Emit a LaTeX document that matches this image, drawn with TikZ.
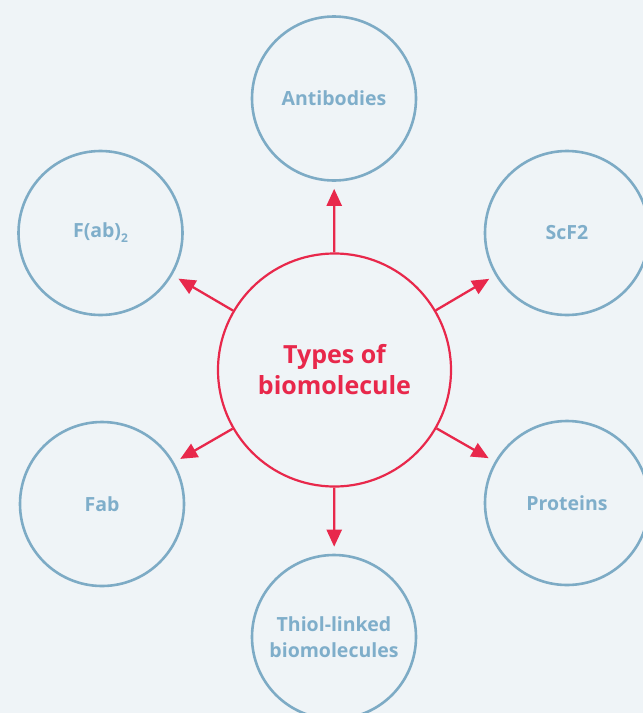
\documentclass[tikz,border=0pt]{standalone}
\usepackage{fontspec}
\setmainfont{Open Sans}
\usetikzlibrary{arrows.meta}
\definecolor{bgc}{HTML}{EFF4F7}
\definecolor{bluec}{HTML}{7DABC5}
\definecolor{bluet}{HTML}{7FAECA}
\definecolor{redc}{HTML}{E8284B}
\tikzset{
  outer/.style={circle,draw=bluec,line width=2.6pt,minimum size=164pt,inner sep=0pt,
    text=bluet,font=\fontsize{19.5}{26}\selectfont\bfseries,align=center},
  center/.style={circle,draw=redc,line width=2.2pt,minimum size=233pt,inner sep=0pt,
    text=redc,font=\fontsize{25}{31}\selectfont\bfseries,align=center},
  link/.style={draw=redc,line width=2.3pt,-{Triangle[length=17pt,width=15pt]},shorten >=7pt}
}
\begin{document}
\begin{tikzpicture}[x=1pt,y=-1pt]
\fill[bgc] (0,0) rectangle (643,713);
\useasboundingbox (0,0) rectangle (643,713);
\node[center] (c) at (334.5,370) {Types of\\biomolecule};
\node[outer] (ab) at (334,98.5) {Antibodies};
\node[outer] (f2) at (100.5,233) {F(ab)\raisebox{-5pt}{\fontsize{12}{12}\selectfont 2}};
\node[outer] (sc) at (567,233) {ScF2};
\node[outer] (fab) at (102,504) {Fab};
\node[outer] (pr) at (567,503) {Proteins};
\node[outer] (th) at (334,637) {Thiol-linked\\biomolecules};
\draw[link] (c) -- (ab);
\draw[link] (c) -- (f2);
\draw[link] (c) -- (sc);
\draw[link] (c) -- (fab);
\draw[link] (c) -- (pr);
\draw[link] (c) -- (th);
\end{tikzpicture}
\end{document}
